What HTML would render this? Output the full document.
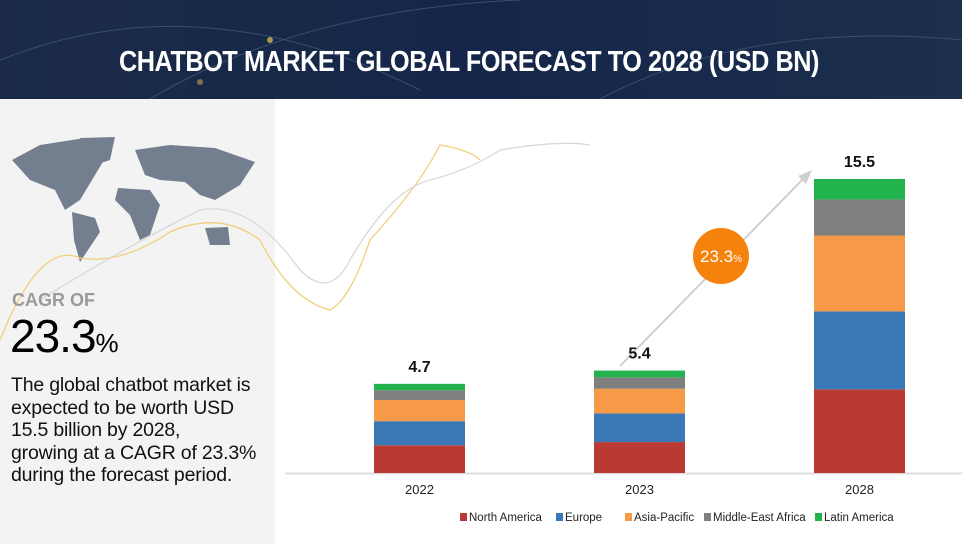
<!DOCTYPE html>
<html><head><meta charset="utf-8"><style>
body{margin:0;width:962px;height:544px;overflow:hidden;background:#fff;font-family:"Liberation Sans",sans-serif;position:relative}
#hdr{position:absolute;left:0;top:0;width:962px;height:99px;background:linear-gradient(90deg,#1b2b47,#15264a 50%,#1c2f4d)}
#title{position:absolute;left:-12px;width:962px;top:46px;text-align:center;color:#fff;font-size:29px;font-weight:bold;letter-spacing:-0.5px;transform:scaleX(0.87);transform-origin:center}
#left{position:absolute;left:0;top:99px;width:275px;height:445px;background:#f3f3f3}
.t{position:absolute;margin:0}
</style></head><body>
<div id="hdr">
<svg width="962" height="99" style="position:absolute;left:0;top:0">
<path d="M0 60 Q200 -20 420 90" stroke="#3a4d6b" fill="none"/>
<path d="M150 99 Q300 10 520 0" stroke="#3a4d6b" fill="none"/>
<path d="M600 99 Q750 20 962 40" stroke="#3a4d6b" fill="none"/>
<circle cx="270" cy="40" r="3" fill="#e8c65a" opacity=".7"/>
<circle cx="200" cy="82" r="3" fill="#c9a04c" opacity=".6"/>
</svg>
<div id="title">CHATBOT MARKET GLOBAL FORECAST TO 2028 (USD BN)</div>
</div>
<div id="left"></div>
<svg width="962" height="544" style="position:absolute;left:0;top:0">
<g fill="#737f8f">
<path d="M12 160 L40 145 L85 138 L110 150 L95 175 L80 200 L65 210 L55 190 L30 180 Z"/>
<path d="M80 138 L115 137 L110 160 L95 165 Z"/>
<path d="M72 212 L95 218 L100 232 L88 250 L80 262 L74 240 Z"/>
<path d="M135 150 L170 145 L215 148 L255 162 L240 185 L215 200 L200 195 L185 182 L160 180 L145 175 Z"/>
<path d="M118 188 L150 190 L160 205 L150 235 L140 240 L130 215 L115 200 Z"/>
<path d="M205 228 L228 227 L230 245 L210 245 Z"/>
</g>
<path d="M0 340 Q40 240 80 258 Q120 265 170 232 Q220 210 260 240 Q290 300 330 310 Q350 300 370 240 Q420 185 440 145 Q470 150 480 160" stroke="#f0cf78" fill="none" stroke-width="1.3"/>
<path d="M40 300 Q120 250 200 210 Q250 200 300 270 Q330 300 350 260 Q390 190 430 180 Q470 170 500 150 Q560 140 590 145" stroke="#d8d8d8" fill="none" stroke-width="1.3"/>
<g id="chart"></g>
</svg>
<p class="t" style="left:12px;top:290px;font-size:18px;font-weight:bold;color:#9a9a9a">CAGR OF</p>
<p class="t" style="left:10px;top:309px;font-size:46px;color:#000;letter-spacing:-1px">23.3<span style="font-size:26px">%</span></p>
<p class="t" style="left:11px;top:374px;width:275px;font-size:19.5px;line-height:22.5px;color:#111;white-space:nowrap;letter-spacing:-0.2px">The global chatbot market is<br>expected to be worth USD<br>15.5 billion by 2028,<br>growing at a CAGR of 23.3%<br>during the forecast period.</p>
<script>
const categories=["2022","2023","2028"];
const seriesNames=["North America","Europe","Asia-Pacific","Middle-East Africa","Latin America"];
const northAmerica=[1.46,1.63,4.41];
const europe=[1.27,1.51,4.11];
const asiaPacific=[1.12,1.30,4.00];
const middleEastAfrica=[0.51,0.60,1.90];
const latinAmerica=[0.34,0.36,1.08];
const totals=["4.7","5.4","15.5"];
const colors=["#b83a33","#3a78b5","#f79a48","#7f7f7f","#22b34f"];
const series=[northAmerica,europe,asiaPacific,middleEastAfrica,latinAmerica];
const NS="http://www.w3.org/2000/svg";
const g=document.getElementById("chart");
const base=473, scale=18.97;
function y(v){return base-v*scale;}
function x(i){return 374+i*220;}
const bw=91;
function mk(t,a){const e=document.createElementNS(NS,t);for(const k in a)e.setAttribute(k,a[k]);g.appendChild(e);return e;}
const ax=mk("line",{x1:285,x2:962,y1:base+0.5,y2:base+0.5,stroke:"#ddd","stroke-width":2});


const ar=mk("line",{x1:620,y1:366,x2:808,y2:174,stroke:"#d0d0d0","stroke-width":2});


const ah=mk("path",{d:"M812 170 L798 176 L806 184 Z",fill:"#d0d0d0"});


categories.forEach((c,i)=>{
  let acc=0;
  series.forEach((s,j)=>{
    const r=mk("rect",{x:x(i),y:y(acc+s[i]),width:bw,height:s[i]*scale,fill:colors[j]});
    
    
    acc+=s[i];
  });
  const tl=mk("text",{x:x(i)+bw/2,y:y(acc)-12,"text-anchor":"middle","font-size":16,"font-weight":"bold",fill:"#111","font-family":"Liberation Sans"});
  tl.textContent=totals[i];
  
  
  const xl=mk("text",{x:x(i)+bw/2,y:494,"text-anchor":"middle","font-size":13,fill:"#222","font-family":"Liberation Sans"});
  xl.textContent=c;
  
  
});
const bub=mk("circle",{cx:721,cy:256,r:28,fill:"#f5820c"});


const bt=mk("text",{x:721,y:262,"text-anchor":"middle","font-size":17,fill:"#fff","font-family":"Liberation Sans"});
bt.innerHTML='23.3<tspan font-size="10">%</tspan>';


const lx=[460,556,625,704,815];
seriesNames.forEach((n,j)=>{
  const r=mk("rect",{x:lx[j],y:513,width:7,height:8,fill:colors[j]});
  
  
  const t=mk("text",{x:lx[j]+9,y:521,"font-size":11.5,fill:"#222","font-family":"Liberation Sans"});
  t.textContent=n;
  
  
});
</script>
</body></html>
